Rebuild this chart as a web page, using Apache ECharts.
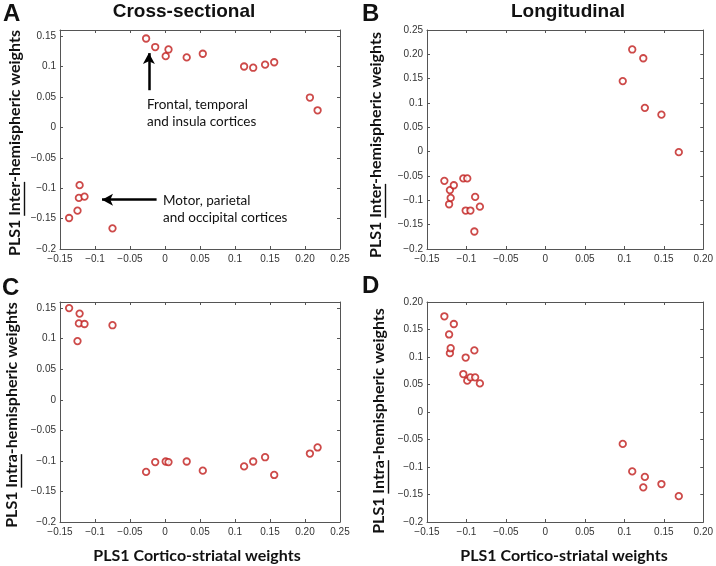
<!DOCTYPE html>
<html>
<head>
<meta charset="utf-8">
<title>PLS1 weights</title>
<script src="https://cdn.jsdelivr.net/npm/echarts@6/dist/echarts.min.js"></script>
<style>
  html, body { margin: 0; padding: 0; background: #fff; }
  #chart { width: 716px; height: 566px; }
</style>
</head>
<body>
<div id="chart"></div>
<script>
// cross-sectional: cortico-striatal weights (x), shared by A and C
var xCross = [-0.137, -0.125, -0.123, -0.122, -0.115, -0.075, -0.027, -0.014, 0.001, 0.005, 0.031, 0.054, 0.113, 0.126, 0.143, 0.156, 0.207, 0.218];
var yInterCross = [-0.149, -0.137, -0.116, -0.095, -0.114, -0.166, 0.146, 0.132, 0.117, 0.128, 0.115, 0.121, 0.100, 0.098, 0.103, 0.107, 0.049, 0.028];
var yIntraCross = [0.150, 0.096, 0.125, 0.141, 0.124, 0.122, -0.118, -0.102, -0.101, -0.102, -0.101, -0.116, -0.109, -0.101, -0.094, -0.123, -0.088, -0.078];

// longitudinal: shared by B and D
var xLong = [-0.128, -0.122, -0.121, -0.120, -0.116, -0.104, -0.101, -0.099, -0.095, -0.090, -0.089, -0.083, 0.098, 0.110, 0.124, 0.126, 0.147, 0.169];
var yInterLong = [-0.060, -0.108, -0.079, -0.095, -0.069, -0.055, -0.121, -0.055, -0.121, -0.164, -0.093, -0.113, 0.145, 0.210, 0.192, 0.090, 0.076, -0.001];
var yIntraLong = [0.174, 0.141, 0.107, 0.116, 0.160, 0.069, 0.099, 0.057, 0.063, 0.112, 0.063, 0.052, -0.058, -0.108, -0.137, -0.118, -0.131, -0.153];

// tick labels as printed (matlab style)
var xTicksCross = ['−0.15', '−0.1', '−0.05', '0', '0.05', '0.1', '0.15', '0.20', '0.25'];
var xTicksLong = ['−0.15', '−0.1', '−0.05', '0', '0.05', '0.1', '0.15', '0.20'];
var yTicksCross = ['−0.2', '−0.15', '−0.1', '−0.05', '0', '0.05', '0.1', '0.15'];
var yTicksInterLong = ['−0.2', '−0.15', '−0.1', '−0.05', '0', '0.05', '0.1', '0.15', '0.20', '0.25'];
var yTicksIntraLong = ['−0.2', '−0.15', '−0.1', '−0.05', '0', '0.05', '0.1', '0.15', '0.20'];

// annotation arrows in panel A (data coords)
var arrowFrontal = [[-0.023, 0.061], [-0.023, 0.122]];
var arrowMotor = [[-0.012, -0.119], [-0.090, -0.119]];

var RED = '#c01d1c';
var AXIS = '#555';
var labelFont = 'bold 16px Lato';

function toNum(s) {
    return parseFloat(s.replace('−', '-'));
}
function labelOf(labels, v) {
    for (var i = 0; i < labels.length; i++) {
        if (Math.abs(toNum(labels[i]) - v) < 1e-6) return labels[i];
    }
    return '';
}
function zip(xs, ys) {
    return xs.map(function (x, i) { return [x, ys[i]]; });
}

// bottom axis with labels + top axis (box and inner ticks only)
function makeAxes(gridIndex, labels, max, isX) {
    var base = {
        gridIndex: gridIndex,
        type: 'value',
        min: toNum(labels[0]),
        max: max,
        interval: 0.05,
        axisLine: { show: true, onZero: false, lineStyle: { color: AXIS, width: 1 } },
        axisTick: { show: true, inside: true, length: 3, lineStyle: { color: AXIS, width: 1 } },
        splitLine: { show: false }
    };
    var main = Object.assign({}, base, {
        position: isX ? 'bottom' : 'left',
        axisLabel: {
            show: true,
            showMinLabel: true,
            showMaxLabel: true,
            margin: isX ? 5 : 4,
            fontSize: 10,
            fontFamily: 'Liberation Sans',
            color: '#333',
            formatter: function (v) { return labelOf(labels, v); }
        }
    });
    var other = Object.assign({}, base, {
        position: isX ? 'top' : 'right',
        axisLabel: { show: false }
    });
    return [main, other];
}

// rotated y label with one underlined word
var ctx = document.createElement('canvas').getContext('2d');
function yLabel(x, y, before, under, after) {
    ctx.font = labelFont;
    var w0 = ctx.measureText(before).width;
    var w1 = ctx.measureText(under).width;
    var total = ctx.measureText(before + under + after).width;
    var x0 = -total / 2;
    return {
        type: 'group',
        x: x,
        y: y,
        rotation: Math.PI / 2,
        children: [{
            type: 'text',
            x: x0,
            y: 0,
            style: { text: before + under + after, font: labelFont, fill: '#111', align: 'left', verticalAlign: 'middle', textAlign: 'left', textVerticalAlign: 'middle' }
        }, {
            type: 'line',
            shape: { x1: x0 + w0, y1: 9.5, x2: x0 + w0 + w1, y2: 9.5 },
            style: { stroke: '#111', lineWidth: 1.4 }
        }]
    };
}
function text(x, y, str, font, align) {
    return {
        type: 'text',
        x: x,
        y: y,
        style: { text: str, font: font, fill: '#111', align: align || 'left', verticalAlign: 'middle', textAlign: align || 'left', textVerticalAlign: 'middle', lineHeight: 17 }
    };
}

var xAxes = [].concat(
    makeAxes(0, xTicksCross, 0.25, true),
    makeAxes(1, xTicksLong, 0.2, true),
    makeAxes(2, xTicksCross, 0.25, true),
    makeAxes(3, xTicksLong, 0.2, true)
);
var yAxes = [].concat(
    makeAxes(0, yTicksCross, 0.16, false),
    makeAxes(1, yTicksInterLong, 0.25, false),
    makeAxes(2, yTicksCross, 0.16, false),
    makeAxes(3, yTicksIntraLong, 0.2, false)
);

function scatter(k, xs, ys) {
    return {
        type: 'scatter',
        xAxisIndex: 2 * k,
        yAxisIndex: 2 * k,
        data: zip(xs, ys),
        symbol: 'circle',
        symbolSize: 6.5,
        itemStyle: { color: '#fff', borderColor: RED, borderWidth: 1.8 },
        emphasis: { disabled: true }
    };
}

var seriesA = scatter(0, xCross, yInterCross);
seriesA.markLine = {
    silent: true,
    symbol: ['none', 'arrow'],
    symbolSize: [9, 11],
    label: { show: false },
    lineStyle: { color: '#000', width: 2.5, type: 'solid' },
    emphasis: { disabled: true },
    animation: false,
    data: [
        [{ coord: arrowFrontal[0] }, { coord: arrowFrontal[1] }],
        [{ coord: arrowMotor[0] }, { coord: arrowMotor[1] }]
    ]
};

var option = {
    animation: false,
    backgroundColor: '#fff',
    grid: [
        { left: 60, top: 30, width: 280, height: 219 },
        { left: 427, top: 30, width: 280, height: 219 },
        { left: 60, top: 302, width: 280, height: 220 },
        { left: 427, top: 302, width: 280, height: 220 }
    ],
    xAxis: xAxes,
    yAxis: yAxes,
    series: [
        seriesA,
        scatter(1, xLong, yInterLong),
        scatter(2, xCross, yIntraCross),
        scatter(3, xLong, yIntraLong)
    ],
    graphic: [
        text(3, 14, 'A', 'bold 24px Liberation Sans'),
        text(362, 14, 'B', 'bold 24px Liberation Sans'),
        text(2, 288, 'C', 'bold 24px Liberation Sans'),
        text(362, 286, 'D', 'bold 24px Liberation Sans'),
        text(184, 12, 'Cross-sectional', 'bold 19px Liberation Sans', 'center'),
        text(568, 12, 'Longitudinal', 'bold 19px Liberation Sans', 'center'),
        yLabel(15, 143, 'PLS1 ', 'Inter', '-hemispheric weights'),
        yLabel(376, 145, 'PLS1 ', 'Inter', '-hemispheric weights'),
        yLabel(12, 415, 'PLS1 ', 'Intra', '-hemispheric weights'),
        yLabel(379, 421, 'PLS1 ', 'Intra', '-hemispheric weights'),
        text(197, 556, 'PLS1 Cortico-striatal weights', labelFont, 'center'),
        text(564, 556, 'PLS1 Cortico-striatal weights', labelFont, 'center'),
        text(147, 113, 'Frontal, temporal\nand insula cortices', '13.5px Lato'),
        text(163, 209, 'Motor, parietal\nand occipital cortices', '13.5px Lato')
    ]
};

var myChart = echarts.init(document.getElementById('chart'));
myChart.setOption(option);
</script>
</body>
</html>
